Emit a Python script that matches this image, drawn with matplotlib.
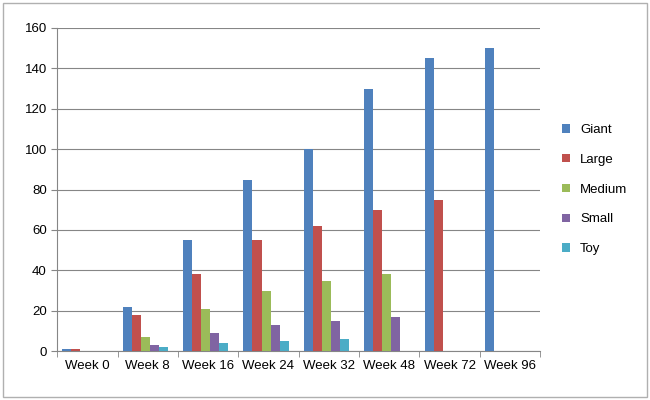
import matplotlib.pyplot as plt
import numpy as np

plt.rcParams["font.family"] = "Liberation Sans"

weeks = ["Week 0", "Week 8", "Week 16", "Week 24", "Week 32", "Week 48", "Week 72", "Week 96"]
giant = [1, 22, 55, 85, 100, 130, 145, 150]
large = [1, 18, 38, 55, 62, 70, 75, 0]
medium = [0, 7, 21, 30, 35, 38, 0, 0]
small = [0, 3, 9, 13, 15, 17, 0, 0]
toy = [0, 2, 4, 5, 6, 0, 0, 0]

series = [("Giant", giant, "#4f81bd"), ("Large", large, "#c0504d"),
          ("Medium", medium, "#9bbb59"), ("Small", small, "#8064a2"),
          ("Toy", toy, "#4bacc6")]

fig = plt.figure(figsize=(6.5, 4), dpi=100)
ax = fig.add_axes([0.088, 0.122, 0.743, 0.808])
# outer frame like the chart area border
fig.patches.append(plt.Rectangle((0.005, 0.008), 0.99, 0.985, transform=fig.transFigure,
                                 fill=False, edgecolor="#b0b0b0", linewidth=1))

x = np.arange(len(weeks))
w = 0.15
for i, (name, vals, col) in enumerate(series):
    ax.bar(x + (i - 2) * w - 0.04, vals, w, color=col, label=name, zorder=3)

ax.set_xlim(-0.5, len(weeks) - 0.5)
ax.set_ylim(0, 160)
ax.set_yticks(range(0, 161, 20))
ax.yaxis.grid(True, color="#868686", linewidth=0.8, zorder=0)
ax.set_xticks(x)
ax.set_xticklabels(weeks)
ax.set_xticks(np.arange(-0.5, len(weeks)), minor=True)
ax.tick_params(axis="x", which="major", length=0, pad=6)
ax.tick_params(axis="x", which="minor", length=4, color="#868686")
ax.tick_params(axis="y", length=4, color="#868686")
ax.tick_params(labelsize=9.5)
for s in ["top", "right"]:
    ax.spines[s].set_visible(False)
for s in ["left", "bottom"]:
    ax.spines[s].set_color("#868686")

ax.legend(loc="center left", bbox_to_anchor=(1.02, 0.5), frameon=False,
          fontsize=9.5, handlelength=0.6, handleheight=0.6, labelspacing=1.35)

fig.savefig("out.png", dpi=100)
